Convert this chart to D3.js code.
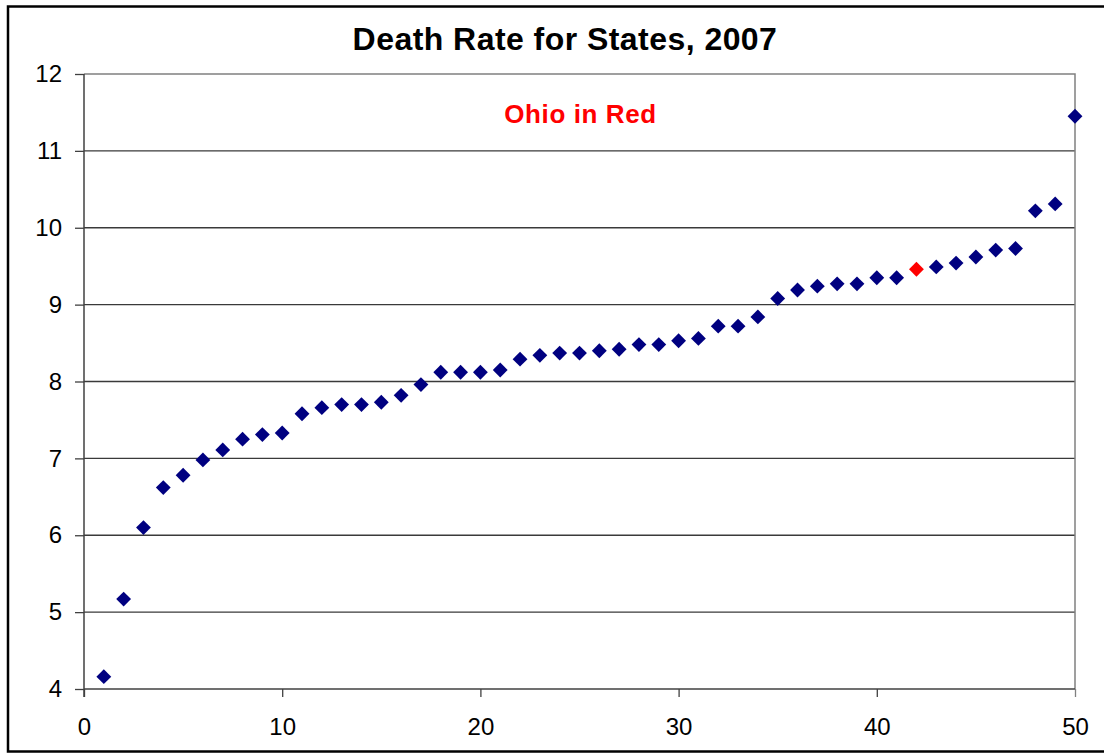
<!DOCTYPE html>
<html>
<head>
<meta charset="utf-8">
<script src="https://cdn.jsdelivr.net/npm/d3@7"></script>
<style>
  html, body { margin: 0; padding: 0; background: #fff; }
  svg { display: block; }
  text { font-family: "Liberation Sans", Arial, sans-serif; }
</style>
</head>
<body>
<svg id="chart" width="1104" height="754"></svg>
<script>
// ---- Data ----
const ranks = d3.range(1, 51);
const deathRates = [
  4.16, 5.17, 6.10, 6.62, 6.78, 6.98, 7.11, 7.25, 7.31, 7.33,
  7.58, 7.66, 7.70, 7.70, 7.73, 7.82, 7.96, 8.12, 8.12, 8.12,
  8.15, 8.29, 8.34, 8.37, 8.37, 8.40, 8.42, 8.48, 8.48, 8.53,
  8.56, 8.72, 8.72, 8.84, 9.08, 9.19, 9.24, 9.27, 9.27, 9.35,
  9.35, 9.46, 9.49, 9.54, 9.62, 9.71, 9.73, 10.22, 10.31, 11.45
];
const highlightRank = 42; // Ohio
const xTicks = [0, 10, 20, 30, 40, 50];
const yTicks = [4, 5, 6, 7, 8, 9, 10, 11, 12];
const titleText = "Death Rate for States, 2007";
const noteText = "Ohio in Red";

// ---- Layout ----
const svg = d3.select("#chart");
const plot = { left: 84, right: 1075, top: 74, bottom: 689 };

const x = d3.scaleLinear().domain([0, 50]).range([plot.left, plot.right]);
const y = d3.scaleLinear().domain([4, 12]).range([plot.bottom, plot.top]);

// outer chart frame
svg.append("rect")
  .attr("x", 8).attr("y", 6.5)
  .attr("width", 1120).attr("height", 745)
  .attr("fill", "#fff")
  .attr("stroke", "#000").attr("stroke-width", 2.5);

// gridlines
svg.append("g")
  .selectAll("line")
  .data(yTicks.filter(d => d !== 4 && d !== 12))
  .join("line")
  .attr("x1", plot.left).attr("x2", plot.right)
  .attr("y1", d => y(d)).attr("y2", d => y(d))
  .attr("stroke", "#3a3a3a").attr("stroke-width", 1.3);

// plot area border (top & right in gray)
svg.append("path")
  .attr("d", `M${plot.left},${y(12)}H${plot.right}V${plot.bottom}`)
  .attr("fill", "none").attr("stroke", "#808080").attr("stroke-width", 1.5);

// axes
const yAxis = d3.axisLeft(y).tickValues(yTicks).tickSize(9).tickPadding(13);
const xAxis = d3.axisBottom(x).tickValues(xTicks).tickSize(8).tickPadding(21);

const gy = svg.append("g").attr("transform", `translate(${plot.left},0)`).call(yAxis);
const gx = svg.append("g").attr("transform", `translate(0,${plot.bottom})`).call(xAxis);

[gx, gy].forEach(g => {
  g.select(".domain").attr("stroke", "#404040").attr("stroke-width", 1.5);
  g.selectAll(".tick line").attr("stroke", "#404040").attr("stroke-width", 1.3);
  g.selectAll(".tick text")
    .attr("fill", "#000")
    .style("font-size", "24px")
    .style("font-family", "'Liberation Sans', Arial, sans-serif");
});
gx.select(".domain").attr("d", `M${plot.left},0H${plot.right}`);
gy.select(".domain").attr("d", `M0,${plot.top}V${plot.bottom + 8}`);
gx.selectAll(".tick").filter(d => d === 50).select("line").attr("stroke", "#808080");

// points
const sym = d3.symbol().type(d3.symbolSquare).size(110);
svg.append("g")
  .selectAll("path")
  .data(ranks.map((r, i) => ({ r, v: deathRates[i] })))
  .join("path")
  .attr("d", sym)
  .attr("transform", d => `translate(${x(d.r)},${y(d.v)}) rotate(45)`)
  .attr("fill", d => d.r === highlightRank ? "#ff0000" : "#000080");

// title
svg.append("text")
  .attr("x", 565).attr("y", 50)
  .attr("text-anchor", "middle")
  .style("font-size", "32px").style("font-weight", "bold")
  .style("letter-spacing", "0.45px")
  .attr("fill", "#000")
  .text(titleText);

// annotation
svg.append("text")
  .attr("x", 580.5).attr("y", 122.5)
  .attr("text-anchor", "middle")
  .style("font-size", "26px").style("font-weight", "bold")
  .style("letter-spacing", "0.6px")
  .attr("fill", "#ff0000")
  .text(noteText);
</script>
</body>
</html>
